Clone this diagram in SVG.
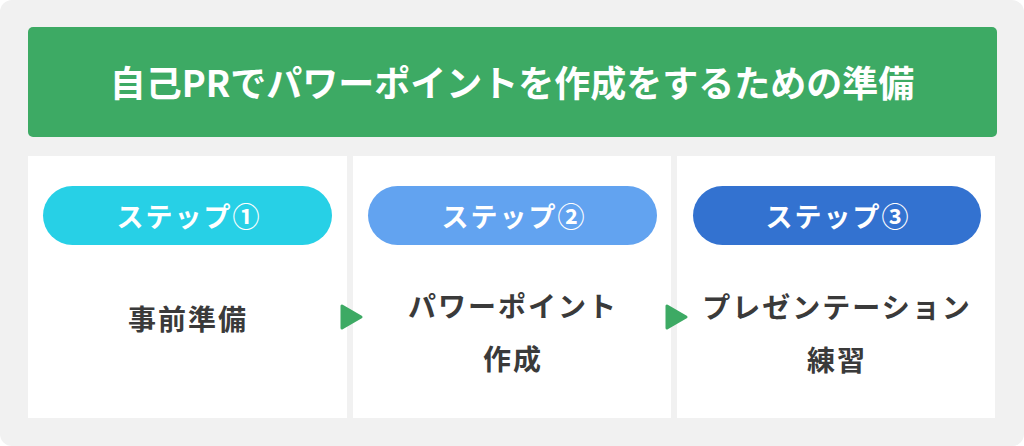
<svg xmlns="http://www.w3.org/2000/svg" width="1024" height="446" viewBox="0 0 1024 446">
<style>
.title{font-family:"Noto Sans CJK JP","Noto Sans",sans-serif;font-weight:700;font-size:36px;fill:#ffffff;text-anchor:middle;dominant-baseline:central}
.pill{font-family:"Noto Sans CJK JP","Noto Sans",sans-serif;font-weight:700;font-size:27px;fill:#ffffff;text-anchor:middle;dominant-baseline:central;letter-spacing:2px}
.body{font-family:"Noto Sans CJK JP","Noto Sans",sans-serif;font-weight:700;font-size:28px;fill:#3a3a3a;text-anchor:middle;dominant-baseline:central;letter-spacing:2px}
.panel{fill:#ffffff}
.arrow{fill:#3daa64;stroke:#3daa64;stroke-width:3;stroke-linejoin:round}
</style>
<rect x="0" y="0" width="1024" height="446" rx="12" fill="#f1f1f1"/>
<g id="title">
<rect x="28" y="27" width="969" height="110" rx="5" fill="#3daa64"/>
<text class="title" x="512" y="81">自己PRでパワーポイントを作成をするための準備</text>
</g>
<g id="step1">
<rect class="panel" x="28" y="156" width="319" height="262"/>
<rect x="43" y="186" width="289" height="59" rx="29.5" fill="#27d0e6"/>
<text class="pill" x="189" y="215">ステップ①</text>
<text class="body" x="188" y="318">事前準備</text>
</g>
<g id="step2">
<rect class="panel" x="353" y="156" width="318" height="262"/>
<rect x="368" y="186" width="289" height="59" rx="29.5" fill="#62a3f0"/>
<text class="pill" x="514" y="215">ステップ②</text>
<text class="body" x="513" y="305">パワーポイント</text>
<text class="body" x="513" y="358">作成</text>
</g>
<g id="step3">
<rect class="panel" x="677" y="156" width="318" height="262"/>
<rect x="693" y="186" width="288" height="59" rx="29.5" fill="#3372d0"/>
<text class="pill" x="838" y="215">ステップ③</text>
<text class="body" x="837" y="306">プレゼンテーション</text>
<text class="body" x="837" y="359">練習</text>
</g>
<g id="connectors">
<polygon class="arrow" points="342,306 342,328 361,317"/>
<polygon class="arrow" points="667,306 667,328 686,317"/>
</g>
</svg>
